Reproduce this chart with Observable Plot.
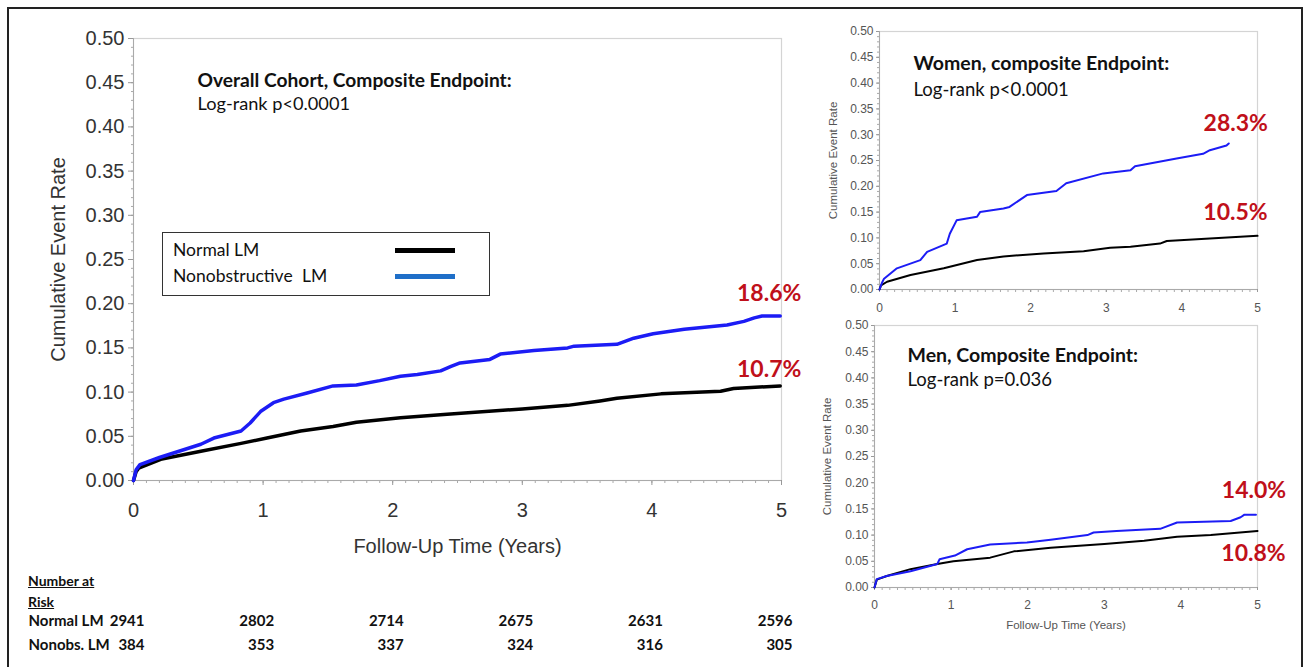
<!DOCTYPE html>
<html><head><meta charset="utf-8">
<script src="https://cdn.jsdelivr.net/npm/d3@7"></script>
<script src="https://cdn.jsdelivr.net/npm/@observablehq/plot@0.6"></script>
<style>
body{margin:0;background:#fff;}
#root{position:relative;width:1309px;height:667px;overflow:hidden;background:#fff;font-family:Lato,"Open Sans",sans-serif;}
#border{position:absolute;left:7px;top:7px;width:1296px;height:700px;border:2px solid #222;box-sizing:border-box;}
.pane{position:absolute;}
#legend{position:absolute;left:162px;top:232px;width:328px;height:64px;border:1.6px solid #333;box-sizing:border-box;background:#fff;}
#legend .row{position:absolute;left:10px;font-size:17.5px;color:#111;line-height:20px;}
#legend .row.wide{word-spacing:5px;}
#legend .sw{position:absolute;left:232px;width:60px;height:5px;}
#riskhead{position:absolute;left:28px;top:570px;font-size:14px;font-weight:bold;color:#111;line-height:21px;text-decoration:underline;}
</style></head>
<body><div id="root"><div id="border"></div></div>
<script>
// ---- Overall cohort ----
const mainNormalT = [0, 0.02, 0.04, 0.21, 0.52, 0.83, 1.03, 1.29, 1.54, 1.72, 2.06, 2.42, 3.0, 3.35, 3.6, 3.73, 4.07, 4.53, 4.63, 4.99];
const mainNormalV = [0, 0.010, 0.014, 0.024, 0.033, 0.042, 0.048, 0.056, 0.061, 0.066, 0.071, 0.075, 0.081, 0.085, 0.090, 0.093, 0.098, 0.101, 0.104, 0.107];
const mainNonobsT = [0, 0.02, 0.05, 0.2, 0.52, 0.62, 0.83, 0.9, 0.98, 1.08, 1.16, 1.34, 1.54, 1.72, 1.9, 2.06, 2.19, 2.37, 2.45, 2.52, 2.75, 2.83, 3.09, 3.35, 3.40, 3.73, 3.86, 4.01, 4.25, 4.58, 4.71, 4.79, 4.85, 4.99];
const mainNonobsV = [0, 0.012, 0.018, 0.026, 0.041, 0.048, 0.056, 0.065, 0.078, 0.088, 0.092, 0.099, 0.107, 0.108, 0.113, 0.118, 0.120, 0.124, 0.129, 0.133, 0.137, 0.143, 0.147, 0.150, 0.152, 0.154, 0.161, 0.166, 0.171, 0.176, 0.180, 0.184, 0.186, 0.186];
// ---- Women ----
const womenNormalT = [0, 0.02, 0.1, 0.41, 0.85, 1.29, 1.64, 2.17, 2.7, 3.05, 3.32, 3.71, 3.8, 4.37, 5.0];
const womenNormalV = [0, 0.008, 0.015, 0.028, 0.041, 0.057, 0.064, 0.070, 0.074, 0.081, 0.083, 0.089, 0.094, 0.099, 0.104];
const womenNonobsT = [0, 0.03, 0.06, 0.23, 0.54, 0.63, 0.89, 0.93, 1.02, 1.29, 1.33, 1.64, 1.72, 1.95, 2.34, 2.47, 2.96, 3.32, 3.38, 3.93, 4.28, 4.37, 4.59, 4.62];
const womenNonobsV = [0, 0.012, 0.021, 0.041, 0.057, 0.073, 0.089, 0.108, 0.134, 0.141, 0.150, 0.157, 0.160, 0.183, 0.191, 0.206, 0.225, 0.231, 0.239, 0.254, 0.263, 0.270, 0.279, 0.283];
// ---- Men ----
const menNormalT = [0, 0.03, 0.16, 0.47, 0.82, 1.03, 1.51, 1.82, 2.3, 3.0, 3.52, 3.95, 4.39, 5.0];
const menNormalV = [0, 0.015, 0.022, 0.035, 0.045, 0.050, 0.057, 0.069, 0.076, 0.083, 0.089, 0.097, 0.100, 0.108];
const menNonobsT = [0, 0.03, 0.16, 0.47, 0.82, 0.85, 1.05, 1.21, 1.51, 1.99, 2.3, 2.78, 2.86, 3.16, 3.73, 3.95, 4.65, 4.78, 4.83, 4.98];
const menNonobsV = [0, 0.016, 0.022, 0.031, 0.045, 0.054, 0.061, 0.073, 0.082, 0.086, 0.091, 0.100, 0.105, 0.108, 0.112, 0.124, 0.127, 0.134, 0.139, 0.139];

// ---- labels ----
const seriesNames = ["Normal LM", "Nonobstructive LM"];
const panelTitles = ["Overall Cohort, Composite Endpoint:", "Women, composite Endpoint:", "Men, Composite Endpoint:"];
const panelPvalues = ["Log-rank p<0.0001", "Log-rank p<0.0001", "Log-rank p=0.036"];
const mainPct = ["10.7%", "18.6%"];
const womenPct = ["10.5%", "28.3%"];
const menPct = ["10.8%", "14.0%"];
const yTickValues = [0, 0.05, 0.10, 0.15, 0.20, 0.25, 0.30, 0.35, 0.40, 0.45, 0.50];
const xTickValues = [0, 1, 2, 3, 4, 5];
const xLabel = "Follow-Up Time (Years)";
const yLabel = "Cumulative Event Rate";

// ---- number at risk ----
const riskTimes = [0, 1, 2, 3, 4, 5];
const riskRows = ["Normal LM", "Nonobs. LM"];
const riskNormal = [2941, 2802, 2714, 2675, 2631, 2596];
const riskNonobs = [384, 353, 337, 324, 316, 305];

const BLUE = "#1c1cf5", RED = "#c0101a";
const zip = (T, V) => T.map((t, i) => ({t, v: V[i]}));
const minorX = d3.range(0, 51).map(i => i / 10);
const minorY = d3.range(0, 51).map(i => i / 100);

function kmPlot(c) {
  const normal = zip(c.nT, c.nV), nonobs = zip(c.bT, c.bV);
  const lastN = normal[normal.length - 1], lastB = nonobs[nonobs.length - 1];
  return Plot.plot({
    width: c.width, height: c.height,
    marginLeft: c.ml, marginRight: c.mr, marginTop: c.mt, marginBottom: c.mb,
    style: {fontFamily: "'Liberation Sans', Arial, sans-serif", background: "transparent", overflow: "visible"},
    x: {domain: [0, 5]},
    y: {domain: [0, 0.5]},
    marks: [
      Plot.frame({stroke: "#d4d4d4", strokeWidth: 1.2}),
      Plot.axisY(minorY, {tickSize: 2, text: null, stroke: "#aaa", label: null}),
      Plot.axisX(minorX, {tickSize: 3, text: null, stroke: "#aaa", label: null}),
      Plot.axisY(yTickValues, {tickSize: c.tick, tickPadding: c.ypad, tickFormat: d3.format(".2f"), fontSize: c.tickFont, fill: c.tickColor, stroke: "#999", label: null}),
      Plot.axisX(xTickValues, {tickSize: c.tick, tickPadding: c.xpad, tickFormat: d => String(d), fontSize: c.tickFont, fill: c.tickColor, stroke: "#999", label: null}),
      Plot.ruleX([0], {stroke: "#aaa"}),
      Plot.ruleY([0], {stroke: "#aaa"}),
      Plot.text([yLabel], {text: d => d, frameAnchor: "left", rotate: -90, dx: c.ylabDx, textAnchor: "middle", lineAnchor: "middle", fontSize: c.labFont, fill: c.tickColor}),
      c.showX ? Plot.text([xLabel], {text: d => d, frameAnchor: "bottom", dy: c.xlabDy, textAnchor: "middle", lineAnchor: "middle", fontSize: c.labFont, fill: c.tickColor}) : null,
      Plot.line(normal, {x: "t", y: "v", stroke: "#000", strokeWidth: c.sw}),
      Plot.line(nonobs, {x: "t", y: "v", stroke: BLUE, strokeWidth: c.sw}),
      Plot.text([lastN], {x: "t", y: "v", text: () => c.pct[0], dx: c.pN[0], dy: c.pN[1], fontFamily: "Lato, sans-serif", fontWeight: "bold", fontSize: 23, fill: RED}),
      Plot.text([lastB], {x: "t", y: "v", text: () => c.pct[1], dx: c.pB[0], dy: c.pB[1], fontFamily: "Lato, sans-serif", fontWeight: "bold", fontSize: 23, fill: RED}),
      Plot.text([c.title], {text: d => d, frameAnchor: "top-left", textAnchor: "start", lineAnchor: "middle", dx: c.tdx, dy: c.tdy, fontFamily: "Lato, sans-serif", fontWeight: "bold", fontSize: c.titleFont, fill: "#111"}),
      Plot.text([c.p], {text: d => d, frameAnchor: "top-left", textAnchor: "start", lineAnchor: "middle", dx: c.tdx, dy: c.tdy + c.pgap, fontFamily: "Lato, sans-serif", fontSize: c.pFont, fill: "#111"})
    ]
  });
}

function place(el, left, top) {
  const d = document.createElement("div");
  d.className = "pane"; d.style.left = left + "px"; d.style.top = top + "px";
  d.appendChild(el);
  document.getElementById("root").appendChild(d);
}

// Main panel
place(kmPlot({
  nT: mainNormalT, nV: mainNormalV, bT: mainNonobsT, bV: mainNonobsV,
  width: 800, height: 560, ml: 133, mr: 19, mt: 38, mb: 80,
  tick: 5, ypad: 4, xpad: 17, tickFont: 20, labFont: 20, tickColor: "#333",
  ylabDx: -75, xlabDy: 66, showX: true, sw: 3.5,
  pct: mainPct, pN: [-11, -16], pB: [-11, -22],
  title: panelTitles[0], p: panelPvalues[0], tdx: 64, tdy: 42, pgap: 24, titleFont: 19.2, pFont: 18.2
}), 0, 0);

// Women panel
place(kmPlot({
  nT: womenNormalT, nV: womenNormalV, bT: womenNonobsT, bV: womenNonobsV,
  width: 500, height: 315, ml: 79, mr: 43, mt: 31, mb: 26,
  tick: 3, ypad: 3, xpad: 11, tickFont: 12, labFont: 11.5, tickColor: "#555",
  ylabDx: -46, xlabDy: 38, showX: false, sw: 2,
  pct: womenPct, pN: [-22, -23], pB: [7, -20],
  title: panelTitles[1], p: panelPvalues[1], tdx: 34, tdy: 32, pgap: 27, titleFont: 19.5, pFont: 18.5
}), 800, 0);

// Men panel
place(kmPlot({
  nT: menNormalT, nV: menNormalV, bT: menNonobsT, bV: menNonobsV,
  width: 500, height: 330, ml: 74, mr: 43, mt: 15, mb: 53,
  tick: 3, ypad: 3, xpad: 10, tickFont: 12, labFont: 11.5, tickColor: "#555",
  ylabDx: -47, xlabDy: 38, showX: true, sw: 2,
  pct: menPct, pN: [-4, 23], pB: [-2, -24],
  title: panelTitles[2], p: panelPvalues[2], tdx: 33, tdy: 30, pgap: 25, titleFont: 19.5, pFont: 18.5
}), 800, 310);

// Number at risk table
const riskData = riskTimes.flatMap((t, i) => [
  {t, row: riskRows[0], n: riskNormal[i]},
  {t, row: riskRows[1], n: riskNonobs[i]}
]);
place(Plot.plot({
  width: 800, height: 107, marginLeft: 133, marginRight: 19, marginTop: 49, marginBottom: 10,
  style: {fontFamily: "Lato, sans-serif", background: "transparent", overflow: "visible"},
  x: {domain: [0, 5], axis: null},
  y: {type: "point", domain: riskRows, axis: null},
  marks: [
    Plot.text(riskRows, {y: d => d, text: d => d, frameAnchor: "left", dx: -105, textAnchor: "start", fontSize: 15, fontWeight: "bold", fill: "#111"}),
    Plot.text(riskData, {x: "t", y: "row", text: d => String(d.n), textAnchor: "end", dx: 11, fontSize: 15, fontWeight: "bold", fill: "#111"})
  ]
}), 0, 560);

// Legend + risk header (HTML)
const root = document.getElementById("root");
const lg = document.createElement("div"); lg.id = "legend";
[["#000", 8], ["#1f6fc8", 34]].forEach(([col, top], i) => {
  const r = document.createElement("div"); r.className = i ? "row wide" : "row"; r.style.top = (top - 1) + "px"; r.textContent = seriesNames[i]; lg.appendChild(r);
  const s = document.createElement("div"); s.className = "sw"; s.style.top = (top + 7) + "px"; s.style.background = col; lg.appendChild(s);
});
root.appendChild(lg);
const rh = document.createElement("div"); rh.id = "riskhead"; rh.innerHTML = "Number at<br>Risk"; root.appendChild(rh);
</script></body></html>
